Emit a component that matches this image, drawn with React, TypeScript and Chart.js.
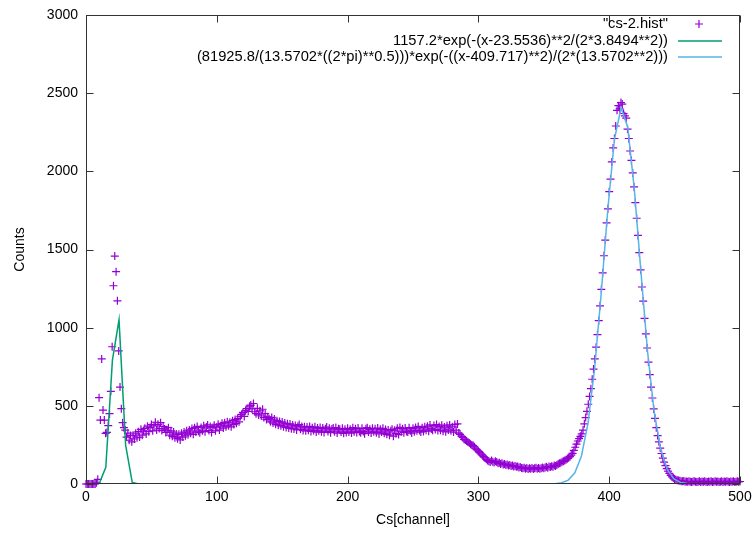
import React, { useEffect, useRef } from "react";
import { Chart, registerables } from "chart.js";

Chart.register(...registerables);

const FONT = '"Liberation Sans", Arial, Helvetica, sans-serif';

// Tick values
const xTicks = [0, 100, 200, 300, 400, 500];
const yTicks = [0, 500, 1000, 1500, 2000, 2500, 3000];

// Histogram counts, channel 0..500
const counts: number[] = [
  0, 0, 0, 0, 0, 0, 0, 0, 8, 30,
  552, 409, 800, 473, 409, 324, 330, 373, 450, 593,
  878, 1268, 1458, 1358, 1172, 851, 620, 482, 392, 360,
  345, 300, 325, 280, 310, 270, 312, 288, 325, 296,
  335, 300, 350, 312, 340, 356, 320, 370, 335, 362,
  380, 340, 372, 395, 345, 382, 355, 392, 342, 368,
  352, 330, 345, 360, 312, 340, 305, 332, 296, 320,
  290, 318, 282, 325, 300, 332, 308, 340, 315, 346,
  325, 355, 318, 360, 332, 368, 338, 328, 362, 340,
  372, 335, 365, 378, 342, 368, 330, 362, 376, 340,
  365, 382, 345, 372, 388, 358, 392, 366, 398, 372,
  395, 366, 405, 380, 412, 388, 420, 398, 432, 445,
  458, 432, 470, 482, 465, 498, 505, 480, 515, 462,
  450, 484, 442, 468, 435, 478, 425, 450, 412, 430,
  418, 398, 426, 390, 415, 382, 405, 376, 400, 372,
  396, 366, 390, 362, 385, 358, 384, 354, 378, 352,
  374, 346, 370, 380, 350, 368, 342, 366, 340, 364,
  344, 368, 336, 360, 342, 366, 332, 358, 340, 362,
  334, 358, 330, 354, 364, 336, 356, 328, 352, 358,
  334, 361, 326, 354, 350, 332, 356, 324, 350, 330,
  356, 332, 350, 326, 360, 334, 354, 330, 358, 336,
  328, 356, 336, 322, 354, 360, 332, 350, 326, 356,
  334, 354, 328, 358, 320, 350, 332, 356, 324, 348,
  318, 346, 312, 340, 350, 306, 344, 322, 356, 316,
  362, 334, 354, 328, 358, 336, 332, 360, 340, 326,
  356, 334, 362, 340, 368, 342, 332, 360, 336, 366,
  344, 370, 338, 378, 352, 344, 374, 348, 380, 342,
  368, 344, 376, 338, 364, 334, 372, 346, 378, 340,
  366, 332, 380, 344, 384, 326, 318, 306, 298, 286,
  282, 275, 268, 262, 255, 250, 246, 238, 225, 218,
  210, 202, 192, 185, 175, 168, 158, 150, 145, 140,
  150, 142, 138, 145, 140, 132, 136, 128, 132, 125,
  128, 122, 125, 118, 121, 115, 118, 112, 115, 110,
  112, 106, 108, 102, 100, 104, 98, 102, 96, 100,
  98, 102, 96, 100, 104, 98, 102, 97, 101, 105,
  100, 106, 110, 104, 112, 108, 114, 110, 118, 115,
  122, 128, 132, 136, 142, 145, 150, 155, 162, 168,
  175, 185, 196, 215, 235, 255, 275, 290, 305, 320,
  345, 385, 425, 465, 510, 560, 610, 670, 735, 800,
  875, 955, 1045, 1140, 1245, 1350, 1460, 1560, 1670, 1760,
  1870, 1950, 2060, 2150, 2210, 2290, 2390, 2420, 2400, 2440,
  2430, 2370, 2355, 2340, 2270, 2210, 2130, 2070, 1990, 1900,
  1800, 1700, 1590, 1480, 1370, 1260, 1170, 1060, 960, 870,
  780, 700, 620, 550, 480, 420, 360, 310, 270, 230,
  195, 165, 140, 118, 98, 82, 68, 55, 45, 38,
  32, 27, 24, 22, 20, 18, 17, 19, 15, 16,
  14, 17, 15, 13, 16, 18, 14, 12, 15, 17,
  13, 16, 14, 18, 15, 12, 16, 14, 17, 13,
  15, 18, 14, 16, 12, 15, 17, 13, 16, 14,
  18, 15, 13, 16, 14, 17, 12, 15, 18, 14,
  16,
];

// Fit curve 1 (sampled as drawn)
const fit1X = [0, 5.05, 10.1, 15.15, 20.2, 25.25, 30.3, 35.35, 40.4, 500];
const fit1Y = [0, 0, 2.6, 107, 792, 1050, 249, 10.5, 0, 0];

// Fit curve 2 (sampled as drawn)
const fit2X = [
  0, 348.48, 353.54, 358.59, 363.64, 368.69, 373.74, 378.79, 383.84, 388.89,
  393.94, 398.99, 404.04, 409.09, 414.14, 419.19, 424.24, 429.29, 434.34,
  439.39, 444.44, 449.49, 454.55, 459.6, 464.65, 469.7, 500,
];
const fit2Y = [
  0, 0.07, 0.46, 2.0, 7.6, 24.9, 71.6, 179, 391, 742,
  1225, 1762, 2206, 2406, 2284, 1888, 1359, 851, 464,
  220, 91, 33, 10.3, 2.8, 0.6, 0.1, 0,
];

const seriesLabels = [
  '"cs-2.hist"',
  "1157.2*exp(-(x-23.5536)**2/(2*3.8494**2))",
  "(81925.8/(13.5702*((2*pi)**0.5)))*exp(-((x-409.717)**2)/(2*(13.5702**2)))",
];
const seriesColors = ["#9400d3", "#009e73", "#56b4e9"];

const framePlugin = {
  id: "gpFrame",
  afterDatasetsDraw(chart: any) {
    const { ctx, chartArea: a, scales } = chart;
    const L = Math.round(a.left) + 0.5;
    const R = Math.round(a.right) - 0.5;
    const T = Math.round(a.top) + 0.5;
    const B = Math.round(a.bottom) - 0.5;
    ctx.save();
    ctx.strokeStyle = "#333";
    ctx.lineWidth = 1;
    ctx.beginPath();
    const tl = 7;
    xTicks.forEach((v) => {
      const px = Math.round(scales.x.getPixelForValue(v)) + 0.5;
      ctx.moveTo(px, B);
      ctx.lineTo(px, B - tl);
      ctx.moveTo(px, T);
      ctx.lineTo(px, T + tl);
    });
    yTicks.forEach((v) => {
      const py = Math.round(scales.y.getPixelForValue(v)) + 0.5;
      ctx.moveTo(L, py);
      ctx.lineTo(L + tl, py);
      ctx.moveTo(R, py);
      ctx.lineTo(R - tl, py);
    });
    ctx.stroke();
    ctx.strokeRect(L, T, R - L, B - T);

    // key (gnuplot style: text right-aligned, sample on the right)
    ctx.font = "14.7px " + FONT;
    ctx.fillStyle = "#000";
    ctx.textAlign = "right";
    ctx.textBaseline = "middle";
    const textRight = a.right - 72;
    const rows = [a.top + 9, a.top + 26, a.top + 42];
    seriesLabels.forEach((lab, i) => {
      ctx.fillText(lab, textRight, rows[i]);
    });
    // point sample
    ctx.strokeStyle = seriesColors[0];
    ctx.lineWidth = 1.2;
    ctx.beginPath();
    const cx = a.right - 41;
    const cy = rows[0];
    ctx.moveTo(cx - 4, cy);
    ctx.lineTo(cx + 4, cy);
    ctx.moveTo(cx, cy - 4);
    ctx.lineTo(cx, cy + 4);
    ctx.stroke();
    for (let i = 1; i < 3; i++) {
      ctx.strokeStyle = seriesColors[i];
      ctx.lineWidth = 1.5;
      ctx.beginPath();
      ctx.moveTo(a.right - 62, rows[i]);
      ctx.lineTo(a.right - 18, rows[i]);
      ctx.stroke();
    }
    ctx.restore();
  },
};

export default function App() {
  const ref = useRef<HTMLCanvasElement | null>(null);
  useEffect(() => {
    if (!ref.current) return;
    const chart = new Chart(ref.current, {
      type: "line",
      data: {
        datasets: [
          {
            label: seriesLabels[2],
            data: fit2X.map((x, i) => ({ x, y: fit2Y[i] })),
            borderColor: seriesColors[2],
            borderWidth: 1.5,
            pointRadius: 0,
            tension: 0,
            fill: false,
          },
          {
            label: seriesLabels[1],
            data: fit1X.map((x, i) => ({ x, y: fit1Y[i] })),
            borderColor: seriesColors[1],
            borderWidth: 1.5,
            pointRadius: 0,
            tension: 0,
            fill: false,
          },
          {
            label: seriesLabels[0],
            data: counts.map((y, i) => ({ x: i, y })),
            showLine: false,
            pointStyle: "cross",
            pointRadius: 4,
            pointBorderWidth: 1.2,
            borderColor: seriesColors[0],
            backgroundColor: seriesColors[0],
            clip: false as any,
          },
        ],
      },
      options: {
        animation: false,
        responsive: true,
        maintainAspectRatio: false,
        layout: { padding: { top: 15, right: 14, left: 0, bottom: 0 } },
        plugins: {
          legend: { display: false },
          tooltip: { enabled: false },
        },
        scales: {
          x: {
            type: "linear",
            min: 0,
            max: 500,
            afterBuildTicks: (s: any) => {
              s.ticks = xTicks.map((v) => ({ value: v }));
            },
            ticks: {
              padding: 5,
              color: "#000",
              font: { size: 14, family: FONT },
              maxRotation: 0,
              autoSkip: false,
              callback: (v: any) => String(v),
            },
            grid: { display: false, drawTicks: false },
            border: { display: false },
            title: {
              display: true,
              text: "Cs[channel]",
              color: "#000",
              font: { size: 14, family: FONT },
              padding: { top: 0, bottom: 7 },
            },
            afterFit: (s: any) => {
              s.height = 52;
              s.paddingLeft = 0;
              s.paddingRight = 0;
            },
          },
          y: {
            type: "linear",
            min: 0,
            max: 3000,
            afterBuildTicks: (s: any) => {
              s.ticks = yTicks.map((v) => ({ value: v }));
            },
            ticks: {
              padding: 8,
              color: "#000",
              font: { size: 14, family: FONT },
              autoSkip: false,
              callback: (v: any) => String(v),
            },
            grid: { display: false, drawTicks: false },
            border: { display: false },
            title: {
              display: true,
              text: "Counts",
              color: "#000",
              font: { size: 14, family: FONT },
              padding: { top: 12, bottom: 0 },
            },
            afterFit: (s: any) => {
              s.width = 86;
              s.paddingTop = 0;
              s.paddingBottom = 0;
            },
          },
        },
      },
      plugins: [framePlugin],
    });
    return () => chart.destroy();
  }, []);
  return (
    <div style={{ position: "fixed", left: 0, top: 0, width: 754, height: 536, background: "#fff" }}>
      <canvas ref={ref} />
    </div>
  );
}
